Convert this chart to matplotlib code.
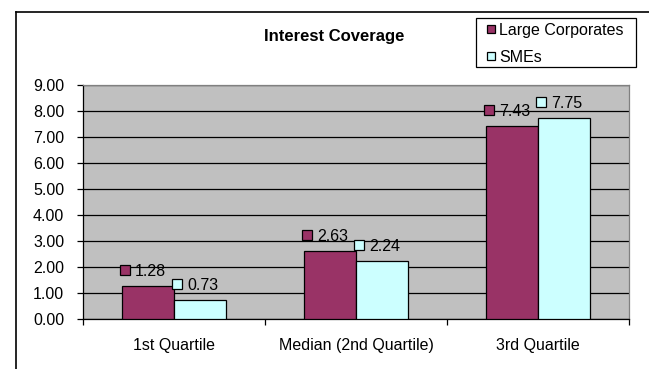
import matplotlib
matplotlib.use("Agg")
import matplotlib.pyplot as plt
from matplotlib.lines import Line2D
from matplotlib.patches import Rectangle
from matplotlib.transforms import offset_copy
import numpy as np

plt.rcParams['font.family'] = ['Liberation Sans', 'DejaVu Sans']
plt.rcParams['font.size'] = 11.5

# data
categories = ["1st Quartile", "Median (2nd Quartile)", "3rd Quartile"]
large_corp = [1.28, 2.63, 7.43]
smes = [0.73, 2.24, 7.75]
series_names = ["Large Corporates", "SMEs"]
colors = ["#993366", "#CCFFFF"]

W, H = 649, 369
fig = plt.figure(figsize=(W / 100, H / 100), dpi=100)
ax = fig.add_axes([83 / W, 1 - 319 / H, (629 - 83) / W, (319 - 85) / H])
ax.set_facecolor("#C0C0C0")

x = np.arange(len(categories))
bw = 0.286
b1 = ax.bar(x - bw / 2, large_corp, bw, color=colors[0], edgecolor="black", linewidth=0.9, zorder=3)
b2 = ax.bar(x + bw / 2, smes, bw, color=colors[1], edgecolor="black", linewidth=0.9, zorder=3)

ax.set_xlim(-0.5, len(categories) - 0.5)
ax.set_ylim(0, 9)
ax.set_yticks(np.arange(0, 10, 1))
ax.set_yticklabels(["%.2f" % v for v in np.arange(0, 10, 1)])
ax.yaxis.grid(True, color="black", linewidth=0.9, zorder=1)
ax.set_axisbelow(True)

# category labels at centres, tick marks at boundaries
ax.set_xticks(x)
ax.set_xticklabels(categories)
ax.tick_params(axis="x", which="major", length=0, pad=14)
ax.set_xticks(np.arange(-0.5, len(categories)), minor=True)
ax.tick_params(axis="x", which="minor", length=4.5, width=0.9, direction="out")
ax.tick_params(axis="y", length=4.5, width=0.9, pad=9, direction="out")

for s in ["top", "right"]:
    ax.spines[s].set_color("#808080")
    ax.spines[s].set_linewidth(0.9)
for s in ["left", "bottom"]:
    ax.spines[s].set_color("black")
    ax.spines[s].set_linewidth(0.9)

# data labels with legend keys
for bars, vals, col, dy in [(b1, large_corp, colors[0], 16), (b2, smes, colors[1], 16)]:
    for bar, v in zip(bars, vals):
        cx = bar.get_x() + bar.get_width() / 2
        mk = offset_copy(ax.transData, fig=fig, x=-23, y=dy, units="dots")
        ax.plot([cx], [v], transform=mk, marker="s", markersize=7, markerfacecolor=col,
                markeredgecolor="black", markeredgewidth=0.9, linestyle="none", zorder=5, clip_on=False)
        tx = offset_copy(ax.transData, fig=fig, x=-13, y=dy, units="dots")
        ax.text(cx, v, "%.2f" % v, transform=tx, ha="left", va="center_baseline", zorder=5)

# title
fig.text(334 / W, 1 - 36 / H, "Interest Coverage", ha="center", va="center", fontsize=12, fontweight="bold")

# legend box drawn by hand to match the original placement
fig.add_artist(Rectangle((476 / W, 1 - 67 / H), (636 - 476) / W, (67 - 18) / H, transform=fig.transFigure,
                         facecolor="white", edgecolor="black", linewidth=0.9))
for i, (name, col) in enumerate(zip(series_names, colors)):
    yy = 1 - (29 + 27 * i) / H
    fig.add_artist(Line2D([491.5 / W], [yy], marker="s", markersize=6, markerfacecolor=col,
                          markeredgecolor="black", markeredgewidth=0.9, linestyle="none"))
    fig.text(499 / W, yy, name, ha="left", va="center_baseline", fontsize=11.5)

# outer chart frame (only left and top visible)
fig.add_artist(Line2D([15.5 / W, 15.5 / W], [0, 1 - 11.5 / H], color="black", linewidth=1.2))
fig.add_artist(Line2D([15.5 / W, 1], [1 - 11.5 / H, 1 - 11.5 / H], color="black", linewidth=1.2))

fig.savefig("out.png", dpi=100)
